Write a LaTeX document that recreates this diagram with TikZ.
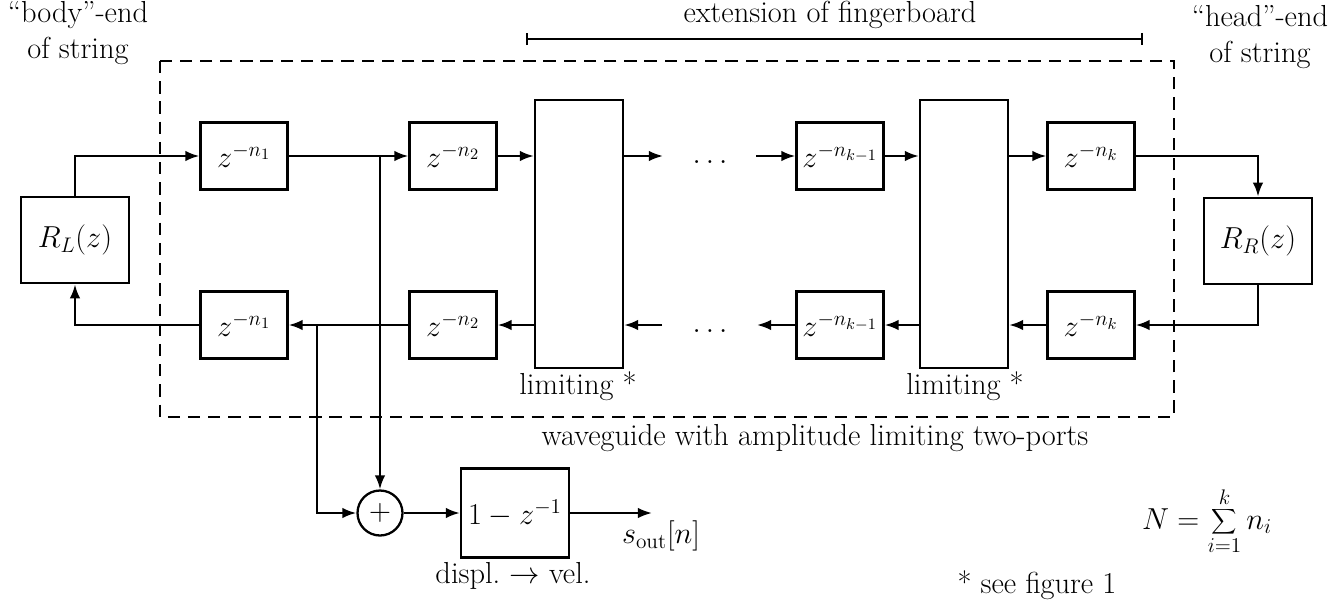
\documentclass[tikz,border=0pt]{standalone}
\usepackage{fontspec}
\usetikzlibrary{arrows.meta}

\begin{document}
\begin{tikzpicture}[x=0.2mm,y=-0.2mm,line width=1.3pt,
        every node/.style={font=\fontsize{17.3}{20}\selectfont},
        delay/.style={draw,minimum width=1.74cm,minimum height=1.34cm,inner sep=0pt},
        refl/.style={draw,minimum width=2.16cm,minimum height=1.73cm,inner sep=0pt},
        limiter/.style={draw,minimum width=1.76cm,minimum height=5.36cm,inner sep=0pt},
        sig/.style={-{Latex[length=8pt,width=6pt]}},
        waveframe/.style={dashed,dash pattern=on 7pt off 4.5pt,line width=1pt}]
        \useasboundingbox (0,0) rectangle (1344,601);

        %waveguide frame
        \draw[waveframe] (160,61) rectangle (1174,417);
        \node (wg) at (815,438) {waveguide with amplitude limiting two-ports};

        %fingerboard
        \coordinate (fbL) at (526,39);
        \coordinate (fbR) at (1143,39);
        \draw[|-|,line width=1pt] (fbL)--(fbR);
        \node (fb) at (830,15) {extension of fingerboard};

        %string ends
        \node[align=center] (body) at (78,33) {``body''-end\\of string};
        \node[align=center] (head) at (1260,37) {``head''-end\\of string};

        %reflection filters
        \node[refl] (RL) at (75,240) {$R_L(z)$};
        \node[refl] (RR) at (1258,241) {$R_R(z)$};

        %delay lines
        \node[delay] (t1) at (244,156) {$z^{-n_1}$};
        \node[delay] (t2) at (453,156) {$z^{-n_2}$};
        \node[delay] (t3) at (840,156) {$z^{-n_{k-1}}$};
        \node[delay] (t4) at (1091,156) {$z^{-n_k}$};
        \node[delay] (b1) at (244,325) {$z^{-n_1}$};
        \node[delay] (b2) at (453,325) {$z^{-n_2}$};
        \node[delay] (b3) at (840,325) {$z^{-n_{k-1}}$};
        \node[delay] (b4) at (1091,325) {$z^{-n_k}$};

        %limiting two-ports
        \node[limiter] (L1) at (579,234) {};
        \node[limiter] (L2) at (964,234) {};
        \node (lab1) at (578,386) {limiting *};
        \node (lab2) at (965,386) {limiting *};

        %gaps
        \coordinate (gT1) at (663,156);
        \coordinate (gT2) at (756,156);
        \coordinate (gB1) at (662,325);
        \coordinate (gB2) at (757,325);
        \node (dotsT) at (710,162) {$\dots$};
        \node (dotsB) at (710,331) {$\dots$};

        %upper rail
        \draw[sig] (RL.north) |- (t1.west);
        \draw[sig] (t1.east)--(t2.west);
        \draw[sig] (t2.east)--(L1.west |- t2.east);
        \draw[sig] (L1.east |- t2.east)--(gT1);
        \draw[sig] (gT2)--(t3.west);
        \draw[sig] (t3.east)--(L2.west |- t3.east);
        \draw[sig] (L2.east |- t4.west)--(t4.west);
        \draw[sig] (t4.east) -| (RR.north);

        %lower rail
        \draw[sig] (RR.south) |- (b4.east);
        \draw[sig] (b4.west)--(L2.east |- b4.west);
        \draw[sig] (L2.west |- b3.east)--(b3.east);
        \draw[sig] (b3.west)--(gB2);
        \draw[sig] (gB1)--(L1.east |- gB1);
        \draw[sig] (L1.west |- b2.east)--(b2.east);
        \draw[sig] (b2.west)--(b1.east);
        \draw[sig] (b1.west) -| (RL.south);

        %output
        \coordinate (jT) at (380,156);
        \coordinate (jB) at (317,325);
        \node[draw,circle,minimum size=0.9cm,inner sep=0pt] (sum) at (380,513) {$+$};
        \node[draw,minimum width=2.16cm,minimum height=1.78cm,inner sep=0pt] (H) at (515,513) {$1-z^{-1}$};
        \coordinate (out) at (652,513);
        \draw[sig] (jT)--(sum.north);
        \draw[sig] (jB) |- (sum.west);
        \draw[sig] (sum.east)--(H.west);
        \draw[sig] (H.east)--(out);
        \node (sout) at (661,536) {$s_{\mathrm{out}}[n]$};
        \node (dv) at (513,576) {displ.\ $\rightarrow$ vel.};

        %notes
        \node (Nsum) at (1207,521) {$\displaystyle N=\sum_{i=1}^{k} n_i$};
        \node (seefig) at (1037,585) {* see figure 1};

    \end{tikzpicture}
\end{document}
